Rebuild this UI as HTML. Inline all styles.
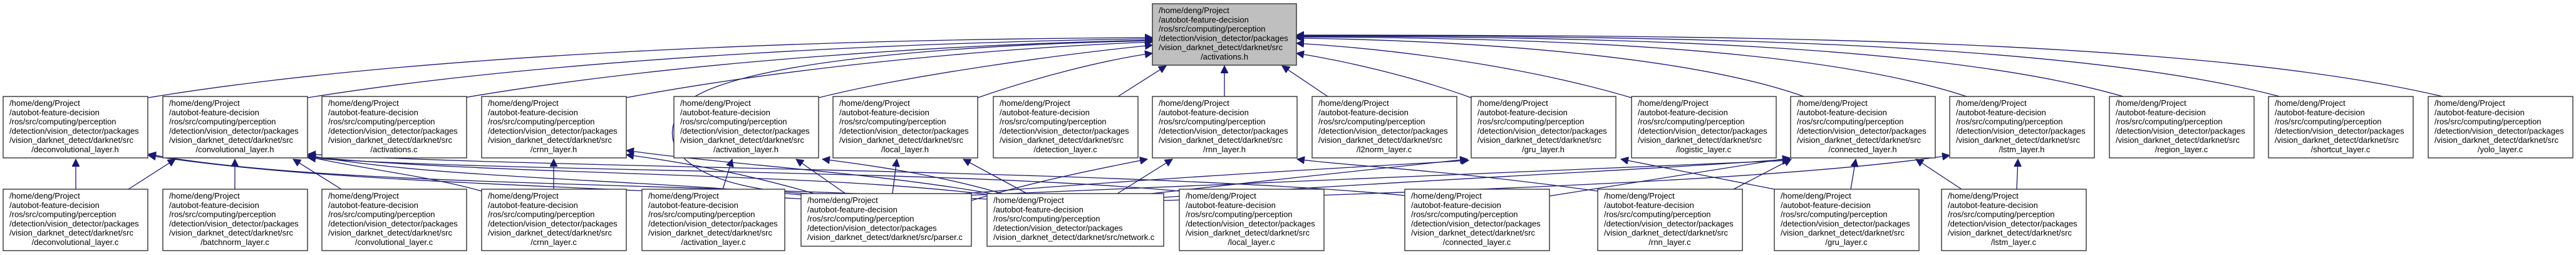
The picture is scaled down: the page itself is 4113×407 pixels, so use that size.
<!DOCTYPE html>
<html><head><meta charset="utf-8"><style>
html,body{margin:0;padding:0;background:#fff}
svg{display:block}
text{font-family:"Liberation Sans",Arial,sans-serif;font-size:13px;fill:#000}
rect{fill:#fff;stroke:#333;stroke-width:1.4}
.e{fill:none;stroke:#191970;stroke-width:1.3;marker-end:url(#a)}
</style></head><body>
<svg width="4113" height="407" viewBox="0 0 4113 407" xmlns="http://www.w3.org/2000/svg">
<defs><marker id="a" markerUnits="userSpaceOnUse" markerWidth="14" markerHeight="12" refX="12" refY="6" orient="auto"><path d="M0,0 L12,6 L0,12 z" fill="#191970" stroke="#191970"/></marker></defs>

<!-- edges middle -> top -->
<path class="e" d="M236,156 C700,80 1400,62 1840,60"/>
<path class="e" d="M491,156 C900,90 1500,66 1840,62"/>
<path class="e" d="M740,156 C1100,95 1550,70 1840,64"/>
<path class="e" d="M999,156 C1300,100 1650,74 1840,67"/>
<path class="e" d="M1307,156 C1450,120 1700,86 1840,72"/>
<path class="e" d="M1561,156 C1650,125 1760,96 1840,85"/>
<path class="e" d="M1785,154 L1862,105"/>
<path class="e" d="M1955,154 L1955,105"/>
<path class="e" d="M2120,154 L2047,105"/>
<path class="e" d="M2349,156 C2250,120 2140,96 2070,85"/>
<path class="e" d="M2605,156 C2450,110 2250,80 2070,69"/>
<path class="e" d="M2880,154 C2700,90 2350,64 2070,61"/>
<path class="e" d="M3140,154 C2900,75 2450,60 2070,59"/>
<path class="e" d="M3390,154 C3100,70 2550,58 2070,58"/>
<path class="e" d="M3640,154 C3300,65 2650,57 2070,57"/>
<path class="e" d="M3900,154 C3500,60 2750,56 2070,56"/>
<path class="e" d="M1290,309 C1100,300 1030,230 1100,160 C1200,90 1600,70 1840,65"/>

<!-- bottom -> middle -->
<path class="e" d="M121,302 L121,254"/>
<path class="e" d="M205,302 L280,254"/>
<path class="e" d="M375,302 L375,254"/>
<path class="e" d="M545,302 L468,254"/>
<path class="e" d="M884,302 L884,254"/>
<path class="e" d="M1154,302 L1169,254"/>
<path class="e" d="M1350,309 L1271,254"/>
<path class="e" d="M1425,309 L1432,254"/>
<path class="e" d="M1640,309 L1538,254"/>
<path class="e" d="M1600,309 C1500,280 1400,265 1313,254"/>
<path class="e" d="M1300,309 C1200,280 1100,260 1000,247"/>
<path class="e" d="M1600,312 C1400,275 1150,262 1000,240"/>
<path class="e" d="M1290,312 C1000,285 700,285 492,248"/>
<path class="e" d="M1590,312 C1300,275 800,280 492,250"/>
<path class="e" d="M1883,305 C1500,270 800,275 492,252"/>
<path class="e" d="M2243,312 C1800,270 900,270 492,246"/>
<path class="e" d="M769,305 C680,280 580,270 492,250"/>
<path class="e" d="M1580,318 C1000,290 500,295 237,246"/>
<path class="e" d="M1290,318 C900,295 500,290 237,248"/>
<path class="e" d="M1784,309 L1872,254"/>
<path class="e" d="M1551,320 C1650,290 1750,270 1832,254"/>
<path class="e" d="M2551,305 C2300,270 2150,265 2071,254"/>
<path class="e" d="M1838,309 C2000,290 2200,270 2343,254"/>
<path class="e" d="M1500,312 C1900,280 2200,265 2345,256"/>
<path class="e" d="M2833,302 L2588,254"/>
<path class="e" d="M1858,315 C2300,285 2650,270 2858,254"/>
<path class="e" d="M1540,312 C2200,285 2600,268 2858,256"/>
<path class="e" d="M2768,302 L2860,254"/>
<path class="e" d="M2473,313 C2650,285 2780,265 2858,252"/>
<path class="e" d="M2955,302 L2963,254"/>
<path class="e" d="M3132,302 L3059,254"/>
<path class="e" d="M1858,320 C2500,300 2900,280 3113,248"/>
<path class="e" d="M3220,302 L3222,254"/>

<!-- top node -->
<rect x="1840" y="6" width="230" height="98" style="fill:#bfbfbf"/>
<text x="1850" y="21"><tspan x="1850">/home/deng/Project</tspan><tspan x="1850" dy="14.75">/autobot-feature-decision</tspan><tspan x="1850" dy="14.75">/ros/src/computing/perception</tspan><tspan x="1850" dy="14.75">/detection/vision_detector/packages</tspan><tspan x="1850" dy="14.75">/vision_darknet_detect/darknet/src</tspan><tspan x="1955" dy="14.75" text-anchor="middle">/activations.h</tspan></text>

<!-- middle row -->
<g>
<rect x="5" y="154" width="231" height="98"/><text x="15" y="169"><tspan x="15">/home/deng/Project</tspan><tspan x="15" dy="14.75">/autobot-feature-decision</tspan><tspan x="15" dy="14.75">/ros/src/computing/perception</tspan><tspan x="15" dy="14.75">/detection/vision_detector/packages</tspan><tspan x="15" dy="14.75">/vision_darknet_detect/darknet/src</tspan><tspan x="120" dy="14.75" text-anchor="middle">/deconvolutional_layer.h</tspan></text>
<rect x="260" y="154" width="231" height="98"/><text x="270" y="169"><tspan x="270">/home/deng/Project</tspan><tspan x="270" dy="14.75">/autobot-feature-decision</tspan><tspan x="270" dy="14.75">/ros/src/computing/perception</tspan><tspan x="270" dy="14.75">/detection/vision_detector/packages</tspan><tspan x="270" dy="14.75">/vision_darknet_detect/darknet/src</tspan><tspan x="375" dy="14.75" text-anchor="middle">/convolutional_layer.h</tspan></text>
<rect x="514" y="154" width="231" height="98"/><text x="524" y="169"><tspan x="524">/home/deng/Project</tspan><tspan x="524" dy="14.75">/autobot-feature-decision</tspan><tspan x="524" dy="14.75">/ros/src/computing/perception</tspan><tspan x="524" dy="14.75">/detection/vision_detector/packages</tspan><tspan x="524" dy="14.75">/vision_darknet_detect/darknet/src</tspan><tspan x="629" dy="14.75" text-anchor="middle">/activations.c</tspan></text>
<rect x="769" y="154" width="231" height="98"/><text x="779" y="169"><tspan x="779">/home/deng/Project</tspan><tspan x="779" dy="14.75">/autobot-feature-decision</tspan><tspan x="779" dy="14.75">/ros/src/computing/perception</tspan><tspan x="779" dy="14.75">/detection/vision_detector/packages</tspan><tspan x="779" dy="14.75">/vision_darknet_detect/darknet/src</tspan><tspan x="884" dy="14.75" text-anchor="middle">/crnn_layer.h</tspan></text>
<rect x="1076" y="154" width="231" height="98"/><text x="1086" y="169"><tspan x="1086">/home/deng/Project</tspan><tspan x="1086" dy="14.75">/autobot-feature-decision</tspan><tspan x="1086" dy="14.75">/ros/src/computing/perception</tspan><tspan x="1086" dy="14.75">/detection/vision_detector/packages</tspan><tspan x="1086" dy="14.75">/vision_darknet_detect/darknet/src</tspan><tspan x="1191" dy="14.75" text-anchor="middle">/activation_layer.h</tspan></text>
<rect x="1330" y="154" width="231" height="98"/><text x="1340" y="169"><tspan x="1340">/home/deng/Project</tspan><tspan x="1340" dy="14.75">/autobot-feature-decision</tspan><tspan x="1340" dy="14.75">/ros/src/computing/perception</tspan><tspan x="1340" dy="14.75">/detection/vision_detector/packages</tspan><tspan x="1340" dy="14.75">/vision_darknet_detect/darknet/src</tspan><tspan x="1445" dy="14.75" text-anchor="middle">/local_layer.h</tspan></text>
<rect x="1586" y="154" width="231" height="98"/><text x="1596" y="169"><tspan x="1596">/home/deng/Project</tspan><tspan x="1596" dy="14.75">/autobot-feature-decision</tspan><tspan x="1596" dy="14.75">/ros/src/computing/perception</tspan><tspan x="1596" dy="14.75">/detection/vision_detector/packages</tspan><tspan x="1596" dy="14.75">/vision_darknet_detect/darknet/src</tspan><tspan x="1701" dy="14.75" text-anchor="middle">/detection_layer.c</tspan></text>
<rect x="1840" y="154" width="231" height="98"/><text x="1850" y="169"><tspan x="1850">/home/deng/Project</tspan><tspan x="1850" dy="14.75">/autobot-feature-decision</tspan><tspan x="1850" dy="14.75">/ros/src/computing/perception</tspan><tspan x="1850" dy="14.75">/detection/vision_detector/packages</tspan><tspan x="1850" dy="14.75">/vision_darknet_detect/darknet/src</tspan><tspan x="1955" dy="14.75" text-anchor="middle">/rnn_layer.h</tspan></text>
<rect x="2095" y="154" width="231" height="98"/><text x="2105" y="169"><tspan x="2105">/home/deng/Project</tspan><tspan x="2105" dy="14.75">/autobot-feature-decision</tspan><tspan x="2105" dy="14.75">/ros/src/computing/perception</tspan><tspan x="2105" dy="14.75">/detection/vision_detector/packages</tspan><tspan x="2105" dy="14.75">/vision_darknet_detect/darknet/src</tspan><tspan x="2210" dy="14.75" text-anchor="middle">/l2norm_layer.c</tspan></text>
<rect x="2349" y="154" width="231" height="98"/><text x="2359" y="169"><tspan x="2359">/home/deng/Project</tspan><tspan x="2359" dy="14.75">/autobot-feature-decision</tspan><tspan x="2359" dy="14.75">/ros/src/computing/perception</tspan><tspan x="2359" dy="14.75">/detection/vision_detector/packages</tspan><tspan x="2359" dy="14.75">/vision_darknet_detect/darknet/src</tspan><tspan x="2464" dy="14.75" text-anchor="middle">/gru_layer.h</tspan></text>
<rect x="2605" y="154" width="231" height="98"/><text x="2615" y="169"><tspan x="2615">/home/deng/Project</tspan><tspan x="2615" dy="14.75">/autobot-feature-decision</tspan><tspan x="2615" dy="14.75">/ros/src/computing/perception</tspan><tspan x="2615" dy="14.75">/detection/vision_detector/packages</tspan><tspan x="2615" dy="14.75">/vision_darknet_detect/darknet/src</tspan><tspan x="2720" dy="14.75" text-anchor="middle">/logistic_layer.c</tspan></text>
<rect x="2859" y="154" width="231" height="98"/><text x="2869" y="169"><tspan x="2869">/home/deng/Project</tspan><tspan x="2869" dy="14.75">/autobot-feature-decision</tspan><tspan x="2869" dy="14.75">/ros/src/computing/perception</tspan><tspan x="2869" dy="14.75">/detection/vision_detector/packages</tspan><tspan x="2869" dy="14.75">/vision_darknet_detect/darknet/src</tspan><tspan x="2974" dy="14.75" text-anchor="middle">/connected_layer.h</tspan></text>
<rect x="3113" y="154" width="231" height="98"/><text x="3123" y="169"><tspan x="3123">/home/deng/Project</tspan><tspan x="3123" dy="14.75">/autobot-feature-decision</tspan><tspan x="3123" dy="14.75">/ros/src/computing/perception</tspan><tspan x="3123" dy="14.75">/detection/vision_detector/packages</tspan><tspan x="3123" dy="14.75">/vision_darknet_detect/darknet/src</tspan><tspan x="3228" dy="14.75" text-anchor="middle">/lstm_layer.h</tspan></text>
<rect x="3368" y="154" width="231" height="98"/><text x="3378" y="169"><tspan x="3378">/home/deng/Project</tspan><tspan x="3378" dy="14.75">/autobot-feature-decision</tspan><tspan x="3378" dy="14.75">/ros/src/computing/perception</tspan><tspan x="3378" dy="14.75">/detection/vision_detector/packages</tspan><tspan x="3378" dy="14.75">/vision_darknet_detect/darknet/src</tspan><tspan x="3483" dy="14.75" text-anchor="middle">/region_layer.c</tspan></text>
<rect x="3622" y="154" width="231" height="98"/><text x="3632" y="169"><tspan x="3632">/home/deng/Project</tspan><tspan x="3632" dy="14.75">/autobot-feature-decision</tspan><tspan x="3632" dy="14.75">/ros/src/computing/perception</tspan><tspan x="3632" dy="14.75">/detection/vision_detector/packages</tspan><tspan x="3632" dy="14.75">/vision_darknet_detect/darknet/src</tspan><tspan x="3737" dy="14.75" text-anchor="middle">/shortcut_layer.c</tspan></text>
<rect x="3877" y="154" width="231" height="98"/><text x="3887" y="169"><tspan x="3887">/home/deng/Project</tspan><tspan x="3887" dy="14.75">/autobot-feature-decision</tspan><tspan x="3887" dy="14.75">/ros/src/computing/perception</tspan><tspan x="3887" dy="14.75">/detection/vision_detector/packages</tspan><tspan x="3887" dy="14.75">/vision_darknet_detect/darknet/src</tspan><tspan x="3992" dy="14.75" text-anchor="middle">/yolo_layer.c</tspan></text>
</g>

<!-- bottom row -->
<g>
<rect x="5" y="302" width="231" height="98"/><text x="15" y="317"><tspan x="15">/home/deng/Project</tspan><tspan x="15" dy="14.75">/autobot-feature-decision</tspan><tspan x="15" dy="14.75">/ros/src/computing/perception</tspan><tspan x="15" dy="14.75">/detection/vision_detector/packages</tspan><tspan x="15" dy="14.75">/vision_darknet_detect/darknet/src</tspan><tspan x="120" dy="14.75" text-anchor="middle">/deconvolutional_layer.c</tspan></text>
<rect x="260" y="302" width="231" height="98"/><text x="270" y="317"><tspan x="270">/home/deng/Project</tspan><tspan x="270" dy="14.75">/autobot-feature-decision</tspan><tspan x="270" dy="14.75">/ros/src/computing/perception</tspan><tspan x="270" dy="14.75">/detection/vision_detector/packages</tspan><tspan x="270" dy="14.75">/vision_darknet_detect/darknet/src</tspan><tspan x="375" dy="14.75" text-anchor="middle">/batchnorm_layer.c</tspan></text>
<rect x="514" y="302" width="231" height="98"/><text x="524" y="317"><tspan x="524">/home/deng/Project</tspan><tspan x="524" dy="14.75">/autobot-feature-decision</tspan><tspan x="524" dy="14.75">/ros/src/computing/perception</tspan><tspan x="524" dy="14.75">/detection/vision_detector/packages</tspan><tspan x="524" dy="14.75">/vision_darknet_detect/darknet/src</tspan><tspan x="629" dy="14.75" text-anchor="middle">/convolutional_layer.c</tspan></text>
<rect x="769" y="302" width="231" height="98"/><text x="779" y="317"><tspan x="779">/home/deng/Project</tspan><tspan x="779" dy="14.75">/autobot-feature-decision</tspan><tspan x="779" dy="14.75">/ros/src/computing/perception</tspan><tspan x="779" dy="14.75">/detection/vision_detector/packages</tspan><tspan x="779" dy="14.75">/vision_darknet_detect/darknet/src</tspan><tspan x="884" dy="14.75" text-anchor="middle">/crnn_layer.c</tspan></text>
<rect x="1025" y="302" width="228" height="98"/><text x="1035" y="317"><tspan x="1035">/home/deng/Project</tspan><tspan x="1035" dy="14.75">/autobot-feature-decision</tspan><tspan x="1035" dy="14.75">/ros/src/computing/perception</tspan><tspan x="1035" dy="14.75">/detection/vision_detector/packages</tspan><tspan x="1035" dy="14.75">/vision_darknet_detect/darknet/src</tspan><tspan x="1139" dy="14.75" text-anchor="middle">/activation_layer.c</tspan></text>
<rect x="1279" y="309" width="272" height="84"/><text x="1289" y="324"><tspan x="1289">/home/deng/Project</tspan><tspan x="1289" dy="14.75">/autobot-feature-decision</tspan><tspan x="1289" dy="14.75">/ros/src/computing/perception</tspan><tspan x="1289" dy="14.75">/detection/vision_detector/packages</tspan><tspan x="1289" dy="14.75">/vision_darknet_detect/darknet/src/parser.c</tspan></text>
<rect x="1576" y="309" width="282" height="84"/><text x="1586" y="324"><tspan x="1586">/home/deng/Project</tspan><tspan x="1586" dy="14.75">/autobot-feature-decision</tspan><tspan x="1586" dy="14.75">/ros/src/computing/perception</tspan><tspan x="1586" dy="14.75">/detection/vision_detector/packages</tspan><tspan x="1586" dy="14.75">/vision_darknet_detect/darknet/src/network.c</tspan></text>
<rect x="1883" y="302" width="231" height="98"/><text x="1893" y="317"><tspan x="1893">/home/deng/Project</tspan><tspan x="1893" dy="14.75">/autobot-feature-decision</tspan><tspan x="1893" dy="14.75">/ros/src/computing/perception</tspan><tspan x="1893" dy="14.75">/detection/vision_detector/packages</tspan><tspan x="1893" dy="14.75">/vision_darknet_detect/darknet/src</tspan><tspan x="1998" dy="14.75" text-anchor="middle">/local_layer.c</tspan></text>
<rect x="2243" y="302" width="231" height="98"/><text x="2253" y="317"><tspan x="2253">/home/deng/Project</tspan><tspan x="2253" dy="14.75">/autobot-feature-decision</tspan><tspan x="2253" dy="14.75">/ros/src/computing/perception</tspan><tspan x="2253" dy="14.75">/detection/vision_detector/packages</tspan><tspan x="2253" dy="14.75">/vision_darknet_detect/darknet/src</tspan><tspan x="2358" dy="14.75" text-anchor="middle">/connected_layer.c</tspan></text>
<rect x="2551" y="302" width="231" height="98"/><text x="2561" y="317"><tspan x="2561">/home/deng/Project</tspan><tspan x="2561" dy="14.75">/autobot-feature-decision</tspan><tspan x="2561" dy="14.75">/ros/src/computing/perception</tspan><tspan x="2561" dy="14.75">/detection/vision_detector/packages</tspan><tspan x="2561" dy="14.75">/vision_darknet_detect/darknet/src</tspan><tspan x="2666" dy="14.75" text-anchor="middle">/rnn_layer.c</tspan></text>
<rect x="2833" y="302" width="231" height="98"/><text x="2843" y="317"><tspan x="2843">/home/deng/Project</tspan><tspan x="2843" dy="14.75">/autobot-feature-decision</tspan><tspan x="2843" dy="14.75">/ros/src/computing/perception</tspan><tspan x="2843" dy="14.75">/detection/vision_detector/packages</tspan><tspan x="2843" dy="14.75">/vision_darknet_detect/darknet/src</tspan><tspan x="2948" dy="14.75" text-anchor="middle">/gru_layer.c</tspan></text>
<rect x="3100" y="302" width="231" height="98"/><text x="3110" y="317"><tspan x="3110">/home/deng/Project</tspan><tspan x="3110" dy="14.75">/autobot-feature-decision</tspan><tspan x="3110" dy="14.75">/ros/src/computing/perception</tspan><tspan x="3110" dy="14.75">/detection/vision_detector/packages</tspan><tspan x="3110" dy="14.75">/vision_darknet_detect/darknet/src</tspan><tspan x="3215" dy="14.75" text-anchor="middle">/lstm_layer.c</tspan></text>
</g>
</svg>
</body></html>
